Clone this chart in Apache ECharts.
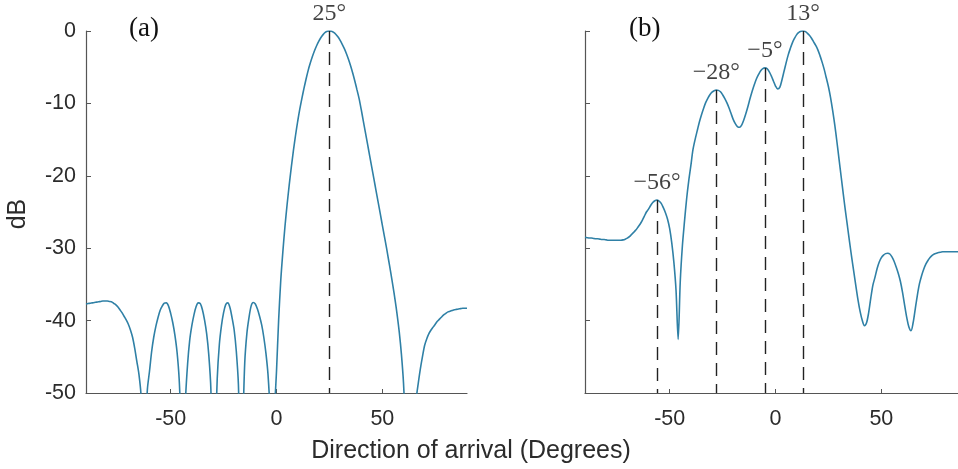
<!DOCTYPE html>
<html>
<head>
<meta charset="utf-8">
<script src="https://cdn.jsdelivr.net/npm/echarts@6/dist/echarts.min.js"></script>
<style>
html,body{margin:0;padding:0;background:#fff;}
#c{width:958px;height:469px;}
</style>
</head>
<body>
<div id="c"></div>
<script>
// Sampling grid: direction of arrival, one value per degree from -90 to 90
const degStart = -90, degStep = 1;
// Panel (a): dB values, -90 .. 90 degrees
const aY = [
-37.7,-37.65,-37.6,-37.55,-37.5,-37.45,-37.4,-37.35,-37.3,-37.3,
-37.3,-37.35,-37.4,-37.6,-37.8,-38.1,-38.5,-38.9,-39.4,-39.9,
-40.5,-41.3,-42.3,-43.8,-45.6,-47.4,-50.3,-58,-56,-49.5,
-47,-44.3,-42.3,-40.8,-39.6,-38.6,-38.0,-37.6,-37.55,-38.0,
-39.0,-40.3,-42.0,-44.3,-48.0,-55,-62,-51,-46,-42.7,
-40.7,-39.2,-38.1,-37.55,-37.65,-38.5,-39.9,-41.8,-44.7,-49.5,
-65,-57,-48,-43.3,-40.7,-38.9,-37.8,-37.55,-38.2,-39.6,
-41.3,-44.2,-48.8,-60,-55,-45.8,-41.8,-39.6,-38.0,-37.5,
-37.7,-38.4,-39.4,-40.6,-42.3,-44.5,-47.5,-53,-65,-53,
-47,-40,-34.5,-30.5,-27,-24,-21.3,-18.8,-16.5,-14.4,
-12.5,-10.8,-9.3,-7.9,-6.6,-5.4,-4.4,-3.5,-2.7,-2.0,
-1.4,-0.9,-0.5,-0.2,-0.05,0,-0.05,-0.2,-0.45,-0.8,
-1.25,-1.8,-2.4,-3.1,-3.9,-4.8,-5.8,-6.9,-8.1,-9.3,
-10.8,-12.4,-14.0,-15.6,-17.2,-18.8,-20.4,-22.0,-23.6,-25.2,
-26.8,-28.4,-30.0,-31.7,-33.4,-35.2,-37.1,-39.2,-41.6,-44.6,
-48.6,-55,-64,-72,-62,-54,-50.8,-48.6,-46.6,-44.9,
-43.4,-42.5,-41.8,-41.3,-40.9,-40.5,-40.1,-39.8,-39.5,-39.2,
-39.0,-38.8,-38.7,-38.6,-38.5,-38.45,-38.4,-38.35,-38.3,-38.3,
-38.3
];
// Panel (b): dB values, -90 .. 90 degrees
const bY = [
-28.5,-28.55,-28.6,-28.6,-28.65,-28.7,-28.7,-28.75,-28.8,-28.8,
-28.85,-28.9,-28.9,-28.9,-28.9,-28.9,-28.9,-28.9,-28.85,-28.75,
-28.6,-28.4,-28.1,-27.8,-27.5,-27.1,-26.7,-26.2,-25.6,-25.0,
-24.6,-24.1,-23.7,-23.45,-23.35,-23.5,-23.8,-24.4,-25.1,-26.0,
-27.3,-29.3,-32.0,-35.8,-42.6,-34.6,-29.7,-26.3,-23.2,-20.7,
-18.6,-16.4,-15.0,-13.8,-12.6,-11.6,-10.7,-9.9,-9.3,-8.8,
-8.45,-8.25,-8.15,-8.2,-8.4,-8.8,-9.3,-9.9,-10.6,-11.4,
-12.2,-12.8,-13.2,-13.3,-13.0,-12.3,-11.4,-10.4,-9.3,-8.3,
-7.4,-6.6,-6.0,-5.5,-5.2,-5.1,-5.2,-5.6,-6.2,-6.9,
-7.6,-8.0,-7.8,-6.8,-5.6,-4.4,-3.3,-2.4,-1.6,-1.0,
-0.5,-0.2,-0.05,0,-0.05,-0.3,-0.6,-1.0,-1.5,-2.0,
-2.6,-3.4,-4.3,-5.3,-6.5,-7.7,-9.2,-11.0,-13.0,-15.3,
-17.7,-20.1,-22.5,-24.8,-27.0,-29.2,-31.3,-33.3,-35.3,-37.2,
-38.8,-40.0,-40.7,-40.3,-38.9,-36.9,-35.1,-34.0,-32.8,-31.9,
-31.3,-30.95,-30.75,-30.7,-30.8,-31.2,-31.8,-32.6,-33.5,-34.6,
-36.1,-37.9,-39.6,-40.9,-41.4,-40.3,-38.4,-36.5,-34.9,-33.8,
-32.9,-32.2,-31.7,-31.3,-31.0,-30.8,-30.7,-30.6,-30.55,-30.5,
-30.5,-30.5,-30.5,-30.5,-30.5,-30.5,-30.5,-30.5,-30.5,-30.5,
-30.5
];
// Peak annotations
const aPeakX = [25];
const aPeakY = [0];
const aPeakLabel = ['25°'];
const bPeakX = [-56, -28, -5, 13];
const bPeakY = [-23.35, -8.15, -5.1, 0];
const bPeakLabel = ['−56°', '−28°', '−5°', '13°'];
// Axis ticks
const xTicks = [-50, 0, 50];
const yMin = -50, yMax = 0, yStep = 10;
const xMinA = -90, xMaxA = 90;
const xMinB = -90, xMaxB = 86.2;   // panel (b) is cut at the right edge of the picture
const panelLabels = ['(a)', '(b)'];
const xTitle = 'Direction of arrival (Degrees)';
const yTitle = 'dB';

const lineColor = '#2f80a6';
const axisColor = '#555';
const sans = '"Liberation Sans", Arial, sans-serif';
const serif = '"Liberation Serif", "Times New Roman", serif';

function withDeg(ys){ return ys.map((y,i)=>[degStart + i*degStep, y]); }

function xAxisDef(gi, mn, mx){
  return {
    type:'value', gridIndex:gi, min:mn, max:mx,
    axisLine:{show:true, onZero:false, lineStyle:{color:axisColor, width:1.2}},
    axisTick:{show:true, inside:true, length:4, customValues:xTicks, lineStyle:{color:axisColor}},
    axisLabel:{show:true, customValues:xTicks, margin:15, fontSize:21.5, color:'#2b2b2b', fontFamily:sans},
    splitLine:{show:false}
  };
}
function yAxisDef(gi, showLabels){
  return {
    type:'value', gridIndex:gi, min:yMin, max:yMax, interval:yStep,
    axisLine:{show:true, onZero:false, lineStyle:{color:axisColor, width:1.2}},
    axisTick:{show:true, inside:true, length:5, lineStyle:{color:axisColor}},
    axisLabel:{show:showLabels, margin:10, fontSize:21.5, color:'#2b2b2b', fontFamily:sans},
    splitLine:{show:false}
  };
}
function markLines(px, py){
  return {
    silent:true, symbol:['none','none'], animation:false,
    label:{show:false},
    lineStyle:{color:'#222', width:1.4, type:[13,8]},
    data: px.map((x,i)=>[{coord:[x, py[i]]},{coord:[x, yMin]}])
  };
}
function peakLabels(gi, px, py, labels){
  return {
    type:'scatter', xAxisIndex:gi, yAxisIndex:gi, symbolSize:0.1, silent:true,
    data: px.map((x,i)=>({value:[x, py[i]], name:labels[i]})),
    label:{show:true, position:'top', distance:5, formatter:p=>p.name,
      fontSize:24, color:'#111', fontFamily:serif},
    z:5
  };
}

const chart = echarts.init(document.getElementById('c'), null, {renderer:'canvas'});
chart.setOption({
  animation:false,
  backgroundColor:'#fff',
  grid:[
    {left:86, top:31, width:381, height:362},
    {left:585, top:31, width:373, height:362}
  ],
  xAxis:[xAxisDef(0, xMinA, xMaxA), xAxisDef(1, xMinB, xMaxB)],
  yAxis:[yAxisDef(0, true), yAxisDef(1, false)],
  series:[
    {type:'line', xAxisIndex:0, yAxisIndex:0, data:withDeg(aY), showSymbol:false, smooth:0.3,
      lineStyle:{color:lineColor, width:1.6}, clip:true, markLine:markLines(aPeakX, aPeakY)},
    {type:'line', xAxisIndex:1, yAxisIndex:1, data:withDeg(bY), showSymbol:false, smooth:0.3,
      lineStyle:{color:lineColor, width:1.6}, clip:true, markLine:markLines(bPeakX, bPeakY)},
    peakLabels(0, aPeakX, aPeakY, aPeakLabel),
    peakLabels(1, bPeakX, bPeakY, bPeakLabel)
  ],
  graphic:[
    {type:'text', left:129, top:15, style:{text:panelLabels[0], font:'27px '+serif, fill:'#111'}},
    {type:'text', left:629, top:15, style:{text:panelLabels[1], font:'27px '+serif, fill:'#111'}},
    {type:'text', x:471, y:451, style:{text:xTitle, font:'25px '+sans, fill:'#2b2b2b', align:'center', verticalAlign:'middle'}},
    {type:'text', x:18, y:214, rotation:Math.PI/2, style:{text:yTitle, font:'25px '+sans, fill:'#2b2b2b', align:'center', verticalAlign:'middle'}}
  ]
});
</script>
</body>
</html>
